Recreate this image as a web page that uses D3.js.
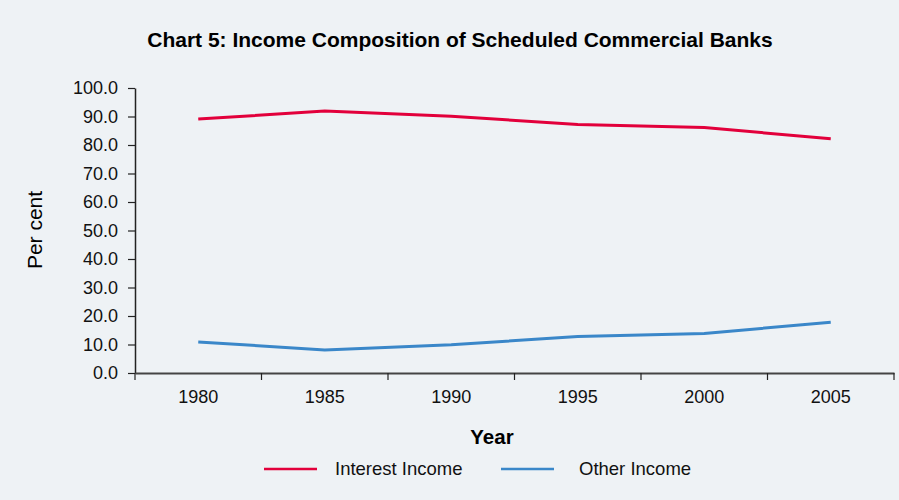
<!DOCTYPE html>
<html><head><meta charset="utf-8">
<script src="https://cdn.jsdelivr.net/npm/d3@7/dist/d3.min.js"></script>
<style>
body{margin:0;background:#eef2f5;}
svg{display:block;font-family:"Liberation Sans",Arial,sans-serif;}
</style></head>
<body><svg id="c" width="899" height="500"></svg>
<script>
const years = ["1980","1985","1990","1995","2000","2005"];
const interestIncome = [89.1, 91.9, 90.1, 87.2, 86.1, 82.2];
const otherIncome = [10.9, 8.1, 9.9, 12.8, 13.9, 17.8];
const yTicks = [0,10,20,30,40,50,60,70,80,90,100];
const seriesNames = ["Interest Income","Other Income"];
const colors = ["#e2003b","#3a87c9"];

(function(){
const svg = d3.select("#c");
svg.append("rect").attr("width",899).attr("height",500).attr("fill","#eef2f5");
const mLeft=135, mRight=894, mTop=88, mBottom=373;
const x = d3.scaleBand().domain(years).range([mLeft,mRight]);
const y = d3.scaleLinear().domain([0,100]).range([mBottom,mTop]);

svg.append("text").attr("x",460).attr("y",47).attr("text-anchor","middle")
  .attr("font-weight","bold").attr("font-size",21)
  .text("Chart 5: Income Composition of Scheduled Commercial Banks");

const ya = svg.append("g").attr("transform",`translate(${mLeft},0)`)
  .call(d3.axisLeft(y).tickValues(yTicks).tickFormat(d3.format(".1f")).tickSize(7).tickSizeOuter(0));
ya.select(".domain").attr("stroke","#222").attr("stroke-width",1.5);
ya.selectAll(".tick line").attr("stroke","#222").attr("stroke-width",1.2);
ya.selectAll(".tick text").attr("font-size",18).attr("fill","#111").attr("x",-17).attr("font-family","Liberation Sans, Arial, sans-serif");

const xa = svg.append("g").attr("transform",`translate(0,${mBottom})`)
  .call(d3.axisBottom(x).tickSize(0).tickPadding(17));
xa.select(".domain").attr("stroke","#444").attr("stroke-width",2);
xa.selectAll(".tick text").attr("font-size",18).attr("fill","#111").attr("font-family","Liberation Sans, Arial, sans-serif");
const edges = years.map(d=>x(d)).concat([x(years[years.length-1])+x.bandwidth()]);
xa.selectAll("line.edge").data(edges).enter().append("line").attr("class","edge")
  .attr("x1",d=>d).attr("x2",d=>d).attr("y1",0).attr("y2",7)
  .attr("stroke","#222").attr("stroke-width",1.2);

const line = d3.line().x((d,i)=>x(years[i])+x.bandwidth()/2).y(d=>y(d));
[interestIncome, otherIncome].forEach((s,k)=>{
  svg.append("path").datum(s).attr("d",line).attr("fill","none")
    .attr("stroke",colors[k]).attr("stroke-width",3);
});

svg.append("text").attr("x",492).attr("y",444).attr("text-anchor","middle")
  .attr("font-weight","bold").attr("font-size",20.5).text("Year");
svg.append("text").attr("transform","translate(42,230) rotate(-90)").attr("text-anchor","middle")
  .attr("font-size",21).text("Per cent");

const legX=[264,501], legT=[335,579];
seriesNames.forEach((n,k)=>{
  svg.append("line").attr("x1",legX[k]).attr("x2",legX[k]+53).attr("y1",469).attr("y2",469)
    .attr("stroke",colors[k]).attr("stroke-width",2.5);
  svg.append("text").attr("x",legT[k]).attr("y",475).attr("font-size",18.5).attr("fill","#111").text(n);
});
})();
</script></body></html>
